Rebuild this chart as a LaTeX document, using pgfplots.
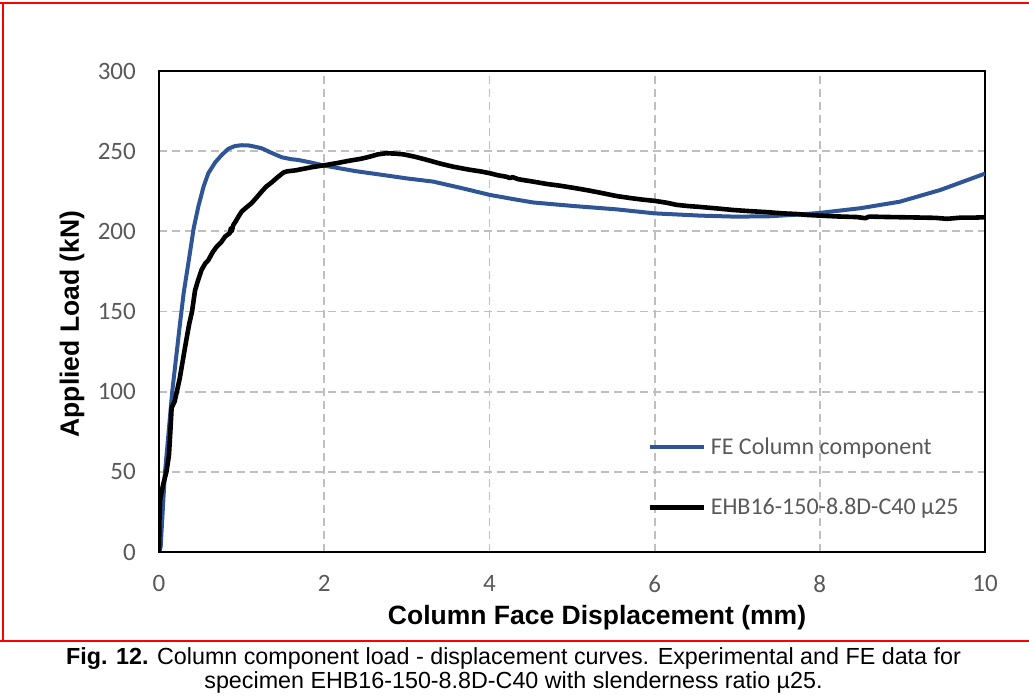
\documentclass[border=0pt]{standalone}
\usepackage{fontspec}
\setmainfont{Liberation Sans}
\newfontfamily\carlito{Carlito}
\usepackage{pgfplots}
\pgfplotsset{compat=1.18}

\definecolor{feblue}{RGB}{47,85,151}
\definecolor{tickgray}{RGB}{89,89,89}
\definecolor{gridgray}{RGB}{191,191,191}

% FE model: load (kN) against column face displacement (mm)
\pgfplotstableread{
x      y
0      0
0.02   3
0.07   48
0.16   100
0.26   145
0.30   162
0.355  180
0.42   202
0.476  215.4
0.54   228
0.597  236.2
0.68   243
0.759  247.6
0.84   251.5
0.92   253.2
1.00   253.7
1.08   253.6
1.16   252.8
1.243  251.8
1.36   249
1.485  246.2
1.60   245
1.687  244.5
1.85   242.8
2.00   241
2.373  237.6
2.716  235.1
3.00   233
3.32   231
3.644  227.2
4.007  222.7
4.30   220
4.53   218
5.016  215.8
5.54   213.7
6.00   211.2
6.55   209.8
6.95   209.2
7.36   209.3
7.76   210.5
8.00   211.5
8.49   214.4
8.97   218.5
9.46   225.8
10.0   236
}\fedata

% Test EHB16-150-8.8D-C40, slenderness mu25
\pgfplotstableread{
x      y
0      0
0.005  20
0.015  33
0.05   42
0.09   50
0.12   60
0.135  73
0.153  90
0.19   94
0.22   101
0.25   108
0.29   120
0.33   132
0.365  142
0.40   150
0.436  163
0.47   169
0.516  176
0.56   180
0.597  182
0.65   187
0.698  190.4
0.75   193
0.80   196.7
0.86   199
0.87   202
0.88   200
0.90   204
0.92   205.5
0.96   209
1.00   212.3
1.06   215
1.12   217.5
1.18   221
1.243  224.8
1.30   228
1.364  230.5
1.43   233.5
1.505  236.6
1.55   237.4
1.65   238
1.75   239
1.85   240
2.00   241.2
2.15   242.5
2.30   244
2.45   245.3
2.554  246.6
2.65   248
2.75   248.7
2.85   248.5
2.96   248
3.10   246.5
3.241  244.6
3.40   242.3
3.563  240.3
3.75   238.5
3.90   237.3
4.007  236.2
4.10   235
4.209  234
4.25   233.2
4.28   233.8
4.35   232.5
4.53   231
4.70   229.5
4.85   228.5
5.056  226.8
5.20   225.5
5.35   224
5.54   222
5.70   220.8
5.85   219.8
6.00   219
6.15   217.8
6.267  216.5
6.40   215.8
6.55   215.2
6.75   214.3
6.95   213.3
7.15   212.6
7.35   212
7.55   211.2
7.72   210.8
7.85   210.2
8.00   209.8
8.20   209.3
8.45   208.9
8.55   208.2
8.60   209.2
8.75   209
8.97   208.8
9.20   208.6
9.40   208.4
9.54   207.8
9.70   208.5
9.85   208.5
10.0   208.8
}\testdata

\begin{document}
\begin{tikzpicture}[x=1pt,y=1pt]
\useasboundingbox (0,0) rectangle (1029,696);

\begin{axis}[
  at={(159pt,144pt)}, anchor=south west,
  scale only axis, width=826pt, height=481pt,
  xmin=0, xmax=10, ymin=0, ymax=300,
  xtick={0,2,...,10}, ytick={0,50,...,300},
  major tick length=0pt,
  grid=major,
  major grid style={gridgray, line width=1.8pt, dash pattern=on 8pt off 5pt},
  axis line style={black, line width=2pt},
  /pgf/number format/assume math mode=true,
  tick label style={font=\carlito\fontsize{25}{25}\selectfont, text=tickgray},
  xticklabel style={anchor=north, inner sep=0pt, yshift=-23pt},
  yticklabel style={anchor=east, inner sep=0pt, xshift=-23pt},
  xlabel={Column Face Displacement (mm)},
  ylabel={Applied Load (kN)},
  every axis x label/.style={at={(axis description cs:0.5303,-0.1372)}, anchor=center,
    font=\bfseries\fontsize{26.5}{26.5}\selectfont},
  every axis y label/.style={at={(axis description cs:-0.1053,0.474)}, anchor=center,
    rotate=90, font=\bfseries\fontsize{26.5}{26.5}\selectfont},
  legend style={at={(axis description cs:0.5908,0.156)}, anchor=west,
    draw=none, fill=none, inner sep=0pt, row sep=43pt, column sep=5pt,
    font=\carlito\fontsize{24}{24}\selectfont, text=tickgray,
    nodes={inner sep=0pt}},
  legend cell align=left,
  legend image code/.code={\draw[#1] (0pt,0pt) -- (54pt,0pt);},
]
\addplot[feblue, line width=4pt, line join=round] table[x=x, y=y] {\fedata};
\addlegendentry{FE Column component}
\addplot[black, line width=4.6pt, line join=round] table[x=x, y=y] {\testdata};
\addlegendentry{EHB16-150-8.8D-C40 µ25}
\end{axis}

% figure frame
\draw[red, line width=2.2pt] (0,693) -- (1029,693);
\draw[red, line width=2.2pt] (3,694) -- (3,55);
\draw[red, line width=2.2pt] (0,55) -- (1029,55);

% caption
\node[anchor=base, font=\fontsize{23.3}{26}\selectfont] at (513.5,31)
  {\textbf{Fig. 12.} Column component load - displacement curves. Experimental and FE data for};
\node[anchor=base, font=\fontsize{23.3}{26}\selectfont] at (513.5,7)
  {specimen EHB16-150-8.8D-C40 with slenderness ratio µ25.};
\end{tikzpicture}
\end{document}
